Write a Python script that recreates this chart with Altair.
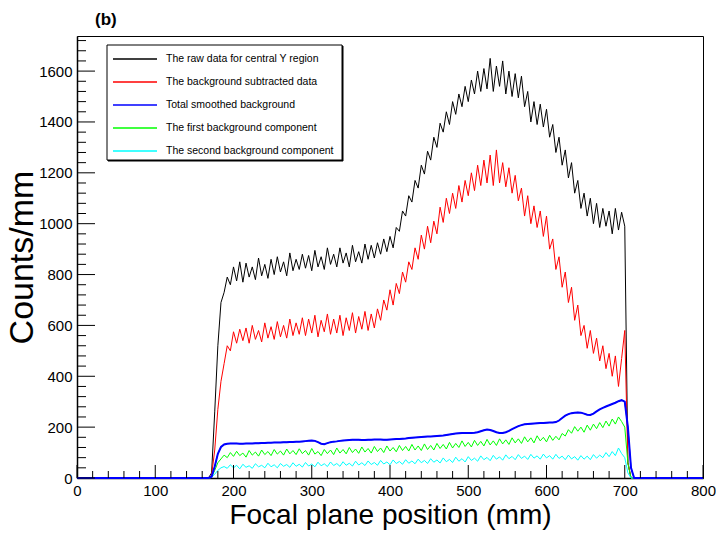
import altair as alt
import pandas as pd

FONT = "Liberation Sans, Arial, sans-serif"

series_names = [
    "The raw data for central Y region",
    "The background subtracted data",
    "Total smoothed background",
    "The first background component",
    "The second background component",
]
series_colors = ["#000000", "#ff0000", "#0000ff", "#00ff00", "#00ffff"]
panel_label = "(b)"

# bin positions (mm): two empty bins on the left, 172..708 every 4 mm, two empty bins on the right
x_positions = [0, 168] + list(range(172, 709, 4)) + [712, 800]

# Values for 172, 176, ..., 708 mm (rows of ten)
raw_data = [
    20, 260, 520, 690, 730, 790, 760, 830, 775, 850,
    770, 845, 790, 830, 780, 865, 795, 840, 785, 860,
    800, 870, 810, 850, 795, 885, 815, 860, 820, 880,
    825, 875, 815, 895, 830, 870, 820, 905, 840, 880,
    830, 905, 845, 885, 830, 915, 850, 890, 845, 920,
    860, 915, 865, 925, 880, 940, 890, 950, 905, 985,
    970, 1050, 1030, 1110, 1085, 1170, 1140, 1230, 1195, 1285,
    1250, 1340, 1300, 1395, 1360, 1440, 1390, 1480, 1430, 1510,
    1460, 1540, 1480, 1565, 1510, 1600, 1520, 1610, 1530, 1650,
    1520, 1620, 1540, 1640, 1510, 1600, 1500, 1590, 1495, 1580,
    1460, 1520, 1400, 1480, 1390, 1470, 1380, 1450, 1340, 1390,
    1280, 1340, 1230, 1290, 1180, 1240, 1120, 1170, 1060, 1120,
    1030, 1100, 1000, 1080, 985, 1060, 990, 1050, 960, 1060,
    975, 1045, 990, 60, 0,
]
subtracted = [
    10, 110, 270, 380, 450, 520, 500, 575, 530, 585,
    540, 590, 530, 600, 545, 580, 535, 610, 550, 595,
    545, 615, 555, 600, 550, 625, 560, 610, 565, 630,
    560, 625, 570, 640, 555, 620, 575, 645, 565, 625,
    570, 640, 560, 630, 580, 650, 570, 635, 585, 655,
    580, 645, 590, 665, 620, 700, 660, 740, 680, 765,
    725, 810, 770, 850, 820, 905, 860, 955, 900, 990,
    925, 1010, 960, 1065, 1005, 1100, 1040, 1120, 1060, 1150,
    1085, 1170, 1110, 1200, 1130, 1230, 1150, 1250, 1160, 1270,
    1150, 1290, 1160, 1240, 1145, 1220, 1120, 1190, 1090, 1140,
    1030, 1110, 1000, 1070, 985, 1050, 950, 1030, 900, 940,
    820, 870, 750, 810, 690, 750, 620, 680, 560, 600,
    510, 580, 490, 550, 460, 520, 430, 490, 400, 480,
    360, 470, 580, 60, 0,
]
total_bg = [
    5, 45, 95, 122, 132, 135, 136, 136, 136, 135,
    135, 136, 136, 136, 137, 137, 138, 138, 139, 139,
    140, 140, 140, 141, 141, 142, 142, 143, 143, 144,
    145, 146, 147, 146, 141, 135, 133, 137, 141, 143,
    144, 146, 147, 148, 149, 150, 150, 150, 149, 149,
    150, 150, 151, 151, 151, 150, 150, 151, 152, 153,
    153, 154, 155, 157, 158, 159, 160, 161, 162, 163,
    163, 164, 165, 166, 167, 169, 171, 173, 175, 176,
    177, 177, 177, 177, 178, 180, 184, 188, 191, 189,
    185, 180, 177, 177, 180, 185, 192, 198, 204, 208,
    211, 212, 213, 214, 215, 216, 216, 217, 218, 218,
    220, 226, 236, 245, 251, 255, 257, 258, 257, 253,
    249, 248, 253, 262, 270, 276, 281, 286, 291, 296,
    302, 306, 300, 200, 40,
]
first_bg = [
    3, 30, 60, 75, 90, 80, 100, 85, 105, 88,
    98, 82, 108, 90, 102, 86, 110, 92, 104, 88,
    112, 94, 106, 90, 114, 95, 108, 92, 115, 96,
    108, 90, 116, 94, 104, 88, 112, 96, 110, 92,
    118, 98, 112, 95, 120, 100, 114, 97, 122, 102,
    116, 98, 124, 104, 118, 100, 126, 106, 120, 103,
    128, 108, 124, 106, 132, 110, 126, 108, 134, 112,
    128, 110, 136, 116, 132, 114, 140, 118, 136, 120,
    146, 124, 140, 122, 148, 128, 144, 126, 152, 130,
    146, 128, 154, 134, 150, 132, 158, 138, 154, 136,
    162, 142, 158, 138, 166, 146, 160, 142, 168, 148,
    164, 150, 175, 165, 190, 176, 202, 184, 200, 180,
    208, 188, 212, 194, 218, 198, 224, 204, 232, 212,
    240, 222, 200, 60, 0,
]
second_bg = [
    2, 15, 30, 40, 45, 38, 52, 40, 50, 36,
    54, 42, 48, 38, 56, 44, 50, 40, 58, 44,
    52, 40, 57, 46, 53, 42, 60, 46, 54, 43,
    61, 47, 55, 44, 62, 48, 56, 45, 63, 49,
    57, 46, 64, 50, 58, 47, 66, 51, 60, 49,
    67, 53, 61, 50, 69, 55, 63, 52, 71, 57,
    65, 54, 72, 58, 67, 56, 74, 60, 69, 57,
    76, 62, 71, 59, 79, 64, 73, 61, 82, 66,
    76, 63, 84, 69, 78, 66, 87, 72, 81, 68,
    89, 74, 83, 70, 91, 76, 85, 72, 92, 77,
    86, 73, 93, 78, 87, 74, 94, 79, 88, 74,
    93, 77, 86, 72, 90, 75, 84, 70, 88, 74,
    86, 72, 92, 78, 90, 80, 100, 84, 104, 88,
    118, 96, 80, 20, 0,
]

x_major = list(range(0, 801, 100))
x_minor = [v for v in range(0, 801, 20) if v % 100]
y_major = list(range(0, 1601, 200))
y_minor = [v for v in range(0, 1721, 40) if v % 200]

W, H = 626, 442
Y_MAX = 1738

# draw order: blue drawn last (on top)
draw_order = [
    (series_names[0], raw_data),
    (series_names[1], subtracted),
    (series_names[3], first_bg),
    (series_names[4], second_bg),
    (series_names[2], total_bg),
]
rows = []
for name, vals in draw_order:
    full = [0, 0] + vals + [0, 0]
    assert len(full) == len(x_positions), (name, len(full))
    for xv, yv in zip(x_positions, full):
        rows.append({"x": xv, "y": yv, "series": name})
df = pd.DataFrame(rows)
blue_df = df[df["series"] == series_names[2]]

xscale = alt.Scale(domain=[0, 800], nice=False, zero=False)
yscale = alt.Scale(domain=[0, Y_MAX], nice=False, zero=False)

x_axis = alt.Axis(
    values=x_major, ticks=False, grid=False, format="d",
    labelFont=FONT, labelFontSize=15, labelColor="black", labelPadding=5,
    labelFlush=False, labelOverlap=False,
    domainColor="black", domainWidth=1.5,
    title="Focal plane position (mm)", titleFont=FONT, titleFontSize=28,
    titleFontWeight="normal", titleColor="black", titlePadding=3)
y_axis = alt.Axis(
    values=y_major, ticks=False, grid=False, format="d",
    labelFont=FONT, labelFontSize=15, labelColor="black", labelPadding=5,
    labelOverlap=False, domainColor="black", domainWidth=1.5,
    title="Counts/mm", titleFont=FONT, titleFontSize=34,
    titleFontWeight="normal", titleColor="black", titlePadding=-1)

lines = alt.Chart(df).mark_line(interpolate="linear", strokeWidth=1).encode(
    x=alt.X("x:Q", scale=xscale, axis=x_axis),
    y=alt.Y("y:Q", scale=yscale, axis=y_axis),
    color=alt.Color("series:N", scale=alt.Scale(domain=series_names, range=series_colors),
        legend=alt.Legend(title=None, orient="none", legendX=36, legendY=12,
            symbolType="M-2.2,0H2.2", symbolSize=400, symbolStrokeWidth=1.5,
            symbolOffset=11, labelOffset=20, labelFont=FONT, labelFontSize=10.5,
            labelColor="black", labelLimit=400, rowPadding=6, padding=0)),
)
blue_line = alt.Chart(blue_df).mark_line(interpolate="linear", strokeWidth=2, color="#0000ff").encode(
    x=alt.X("x:Q", scale=xscale, axis=x_axis),
    y=alt.Y("y:Q", scale=yscale, axis=y_axis),
)

xtick_major = alt.Chart(pd.DataFrame({"v": x_major})).mark_rule(color="black", strokeWidth=1).encode(
    x=alt.X("v:Q", scale=xscale, axis=x_axis), y=alt.value(H), y2=alt.value(H - 13))
xtick_minor = alt.Chart(pd.DataFrame({"v": x_minor})).mark_rule(color="black", strokeWidth=1).encode(
    x=alt.X("v:Q", scale=xscale, axis=x_axis), y=alt.value(H), y2=alt.value(H - 7))
ytick_major = alt.Chart(pd.DataFrame({"v": y_major})).mark_rule(color="black", strokeWidth=1).encode(
    y=alt.Y("v:Q", scale=yscale, axis=y_axis), x=alt.value(0), x2=alt.value(18))
ytick_minor = alt.Chart(pd.DataFrame({"v": y_minor})).mark_rule(color="black", strokeWidth=1).encode(
    y=alt.Y("v:Q", scale=yscale, axis=y_axis), x=alt.value(0), x2=alt.value(9))

box_df = pd.DataFrame({"k": [0]})
legend_shadow = alt.Chart(box_df).mark_rect(fill="black", stroke="black").encode(
    x=alt.value(31), x2=alt.value(266), y=alt.value(10), y2=alt.value(125))
legend_box = alt.Chart(box_df).mark_rect(fill="white", stroke="black", strokeWidth=1).encode(
    x=alt.value(30), x2=alt.value(265), y=alt.value(9), y2=alt.value(124))

label_b = alt.Chart(box_df).mark_text(
    text=panel_label, align="left", baseline="alphabetic", fontSize=17, fontWeight="bold",
    font=FONT, color="black").encode(x=alt.value(18), y=alt.value(-11))

chart = alt.layer(
    lines, blue_line, xtick_major, xtick_minor, ytick_major, ytick_minor,
    legend_shadow, legend_box, label_b
).properties(
    width=W, height=H,
    autosize=alt.AutoSizeParams(type="none"),
    padding={"left": 77, "top": 36, "right": 13, "bottom": 55},
    background="white",
).configure_view(stroke="black", strokeWidth=1)

chart.save("out.html", embed_options={"renderer": "svg", "actions": False})
